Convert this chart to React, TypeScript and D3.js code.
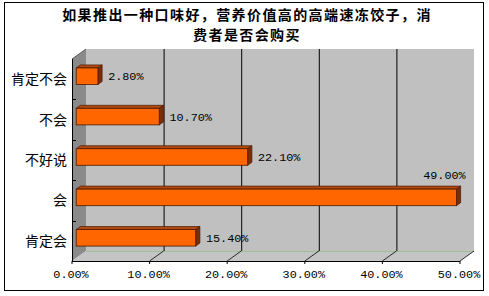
import React from "react";
import * as d3 from "d3";

const titleLines = ["如果推出一种口味好，营养价值高的高端速冻饺子，消", "费者是否会购买"];
const categories = ["肯定不会", "不会", "不好说", "会", "肯定会"];
const values = [0.028, 0.107, 0.221, 0.49, 0.154];
const ticks = [0, 0.1, 0.2, 0.3, 0.4, 0.5];

const W = 489;
const H = 296;

export default function App() {
  const fx0 = 72, fx1 = 460; // front plane
  const DX = 14, DY = -10; // depth offset
  const yTop = 59, yBot = 261;
  const xFront = d3.scaleLinear().domain([0, 0.5]).range([fx0, fx1]);
  const xBack = (v: number) => xFront(v) + DX;
  const yBand = d3.scaleBand<string>().domain(categories).range([yTop, yBot]).paddingInner(0.59).paddingOuter(0.295);
  const yFrontBand = d3.scaleBand<string>().domain(categories).range([yTop, yBot]);
  const fmt = (v: number) => (v * 100).toFixed(2) + "%";
  const f0 = 0.3, f1 = 0.6;
  const bdx0 = DX * f0, bdy0 = DY * f0, bdx = DX * (f1 - f0), bdy = DY * (f1 - f0);
  const monoFont = "'Liberation Mono', monospace";
  const cjkFont = "'Noto Sans CJK SC', sans-serif";

  return (
    <svg width={W} height={H} style={{ position: "absolute", left: 0, top: 0, background: "#fff" }}>
      <rect x={4.5} y={2.5} width={479} height={288} fill="#fff" stroke="#000" strokeWidth={1} />
      {titleLines.map((t, i) => (
        <text key={i} x={247} y={20 + i * 20} textAnchor="middle" fontFamily={cjkFont} fontWeight={700} fontSize={14} letterSpacing={1.4} fill="#000">
          {t}
        </text>
      ))}
      {/* back wall */}
      <rect x={xBack(0)} y={yTop + DY} width={xBack(0.5) - xBack(0)} height={yBot - yTop} fill="#c0c0c0" />
      {/* side wall */}
      <polygon points={`${fx0},${yTop} ${fx0 + DX},${yTop + DY} ${fx0 + DX},${yBot + DY} ${fx0},${yBot}`} fill="#8a8a8a" />
      {/* floor */}
      <polygon points={`${fx0},${yBot} ${fx1},${yBot} ${fx1 + DX},${yBot + DY} ${fx0 + DX},${yBot + DY}`} fill="#c4c4c4" />
      <line x1={xBack(0)} x2={xBack(0.5)} y1={yBot + DY + 0.5} y2={yBot + DY + 0.5} stroke="#9fbf96" strokeWidth={1} />
      {/* gridlines */}
      {ticks.map((t) => (
        <g key={t}>
          {t > 0 && t < 0.5 && (
            <line x1={xBack(t) + 0.5} x2={xBack(t) + 0.5} y1={yTop + DY} y2={yBot + DY} stroke="#000" strokeWidth={1} />
          )}
          {t > 0 && <line x1={xBack(t)} y1={yBot + DY} x2={xFront(t)} y2={yBot} stroke="#000" strokeWidth={0.8} />}
        </g>
      ))}
      {/* axes */}
      <line x1={fx0 + 0.5} x2={fx0 + 0.5} y1={yTop} y2={yBot} stroke="#000" />
      <line x1={fx0} x2={fx1} y1={yBot + 0.5} y2={yBot + 0.5} stroke="#000" />
      <line x1={fx0} x2={fx0 + DX} y1={yTop} y2={yTop + DY} stroke="#444" strokeWidth={0.8} />
      {categories.slice(1).map((c) => {
        const y = Math.round(yFrontBand(c)!) + 0.5;
        return <line key={c} x1={fx0} x2={fx0 + 4} y1={y} y2={y} stroke="#000" />;
      })}
      {ticks.map((t) => (
        <line key={"t" + t} x1={xFront(t)} x2={xFront(t)} y1={yBot} y2={yBot + 3} stroke="#000" />
      ))}
      {/* bars */}
      {categories.map((c, i) => {
        const v = values[i];
        const x0 = xFront(0) + bdx0;
        const x1 = xFront(v) + bdx0;
        const y0 = yBand(c)! + bdy0;
        const h = yBand.bandwidth();
        const y1 = y0 + h;
        const stroke = "#4a1a00";
        const labelW = fmt(v).length * 7.1;
        const lx = x1 + bdx + 6;
        const above = lx + labelW > xBack(0.5);
        return (
          <g key={c}>
            <polygon points={`${x0},${y0} ${x0 + bdx},${y0 + bdy} ${x1 + bdx},${y0 + bdy} ${x1},${y0}`} fill="#b04a10" stroke={stroke} strokeWidth={0.7} />
            <polygon points={`${x1},${y0} ${x1 + bdx},${y0 + bdy} ${x1 + bdx},${y1 + bdy} ${x1},${y1}`} fill="#7a2e08" stroke={stroke} strokeWidth={0.7} />
            <rect x={x0} y={y0} width={x1 - x0} height={h} fill="#ff6600" stroke={stroke} strokeWidth={0.8} />
            {above ? (
              <text x={x1 + bdx + 5} y={y0 + bdy - 7} textAnchor="end" fontFamily={monoFont} fontSize={11.8} fill="#000">
                {fmt(v)}
              </text>
            ) : (
              <text x={lx} y={y0 + h / 2 + 4} fontFamily={monoFont} fontSize={11.8} fill="#000">
                {fmt(v)}
              </text>
            )}
          </g>
        );
      })}
      {/* category labels */}
      {categories.map((c) => (
        <text key={c} x={67} y={yFrontBand(c)! + yFrontBand.bandwidth() / 2 + 5} textAnchor="end" fontFamily={cjkFont} fontSize={14} fill="#000">
          {c}
        </text>
      ))}
      {/* tick labels */}
      {ticks.map((t) => (
        <text key={"l" + t} x={xFront(t) - 1} y={278} textAnchor="middle" fontFamily={monoFont} fontSize={11.8} fill="#000">
          {fmt(t)}
        </text>
      ))}
    </svg>
  );
}
